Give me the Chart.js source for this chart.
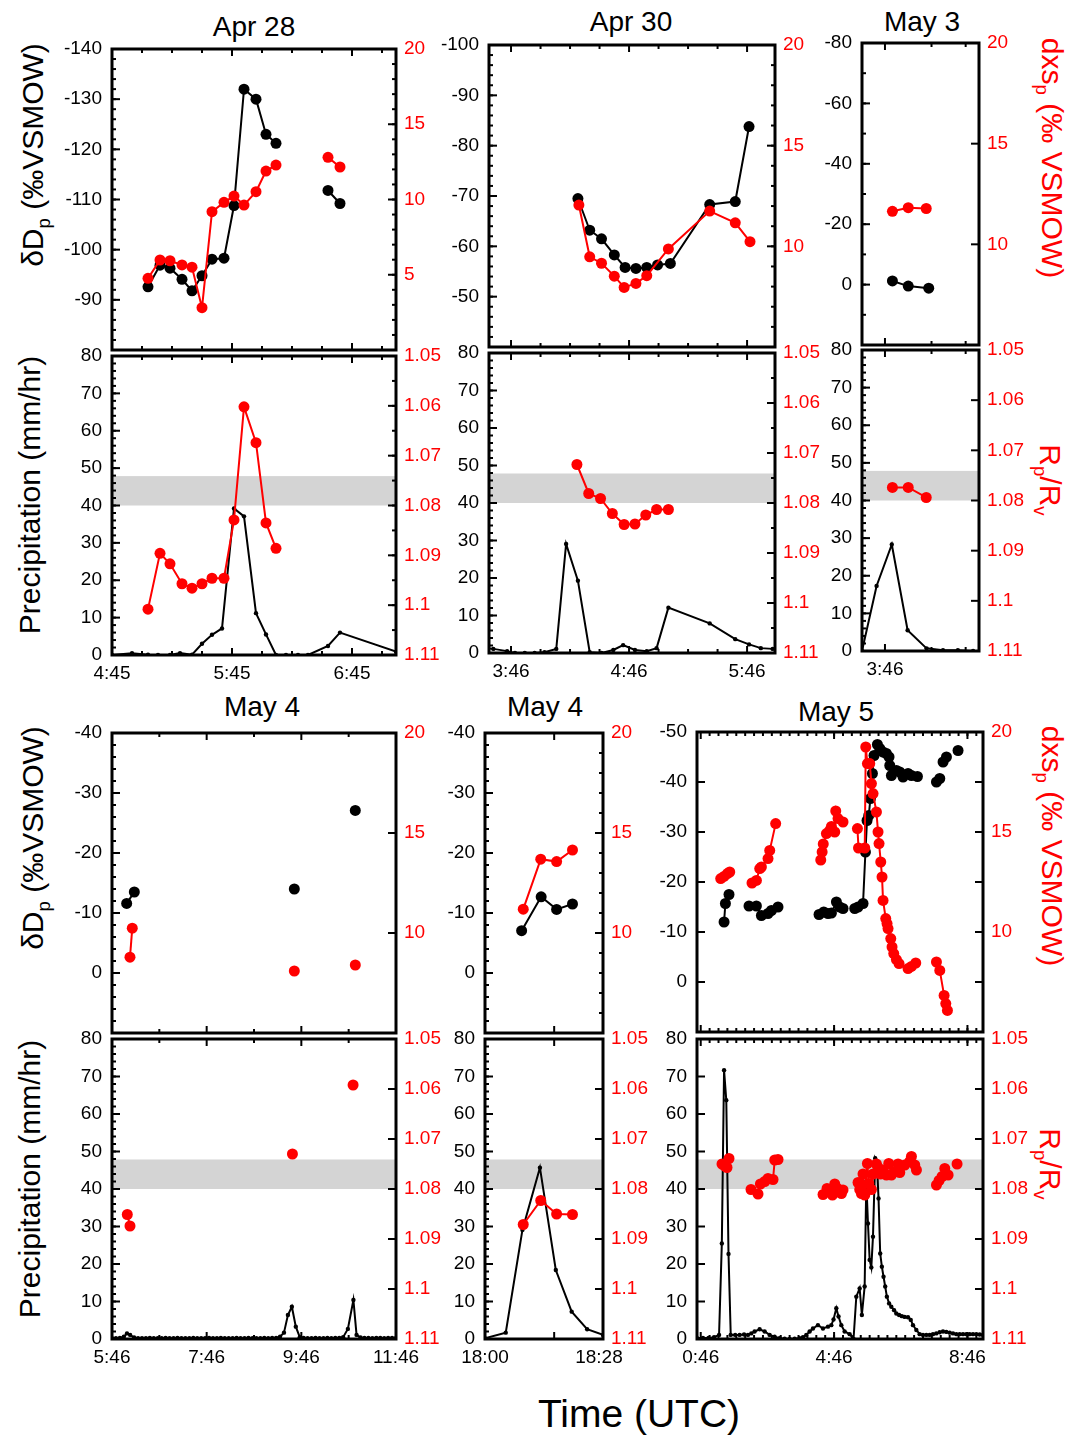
<!DOCTYPE html>
<html>
<head>
<meta charset="utf-8">
<title>Precipitation isotopes and rain rate</title>
<script src="https://cdn.jsdelivr.net/npm/chart.js@4.4.1/dist/chart.umd.min.js"></script>
<style>
  html, body { margin: 0; padding: 0; background: #fff; }
  body { position: relative; width: 1086px; height: 1436px; overflow: hidden; font-family: "Liberation Sans", Arial, sans-serif; color: #000; }
  canvas { position: absolute; }
  .txt { position: absolute; white-space: nowrap; transform: translate(-50%, -50%); line-height: 1; }
  .title { font-size: 28px; }
  .axis { font-size: 30px; }
  .up { transform: translate(-50%, -50%) rotate(-90deg); }
  .down { transform: translate(-50%, -50%) rotate(90deg); color: #ff0000; }
  .time { font-size: 39px; }
  sub { font-size: 0.62em; vertical-align: -0.35em; line-height: 0; }
</style>
</head>
<body>
<div class="txt title" style="left:254px;top:27px">Apr 28</div>
<div class="txt title" style="left:631px;top:22px">Apr 30</div>
<div class="txt title" style="left:922px;top:22px">May 3</div>
<div class="txt title" style="left:262px;top:707px">May 4</div>
<div class="txt title" style="left:545px;top:707px">May 4</div>
<div class="txt title" style="left:836px;top:712px">May 5</div>

<div class="txt axis up" style="left:33px;top:155px">δD<sub>p</sub> (‰VSMOW)</div>
<div class="txt axis up" style="left:30px;top:495px">Precipitation (mm/hr)</div>
<div class="txt axis up" style="left:33px;top:838px">δD<sub>p</sub> (‰VSMOW)</div>
<div class="txt axis up" style="left:30px;top:1179px">Precipitation (mm/hr)</div>

<div class="txt axis down" style="left:1052px;top:158px">dxs<sub>p</sub> (‰ VSMOW)</div>
<div class="txt axis down" style="left:1050px;top:480px">R<sub>p</sub>/R<sub>v</sub></div>
<div class="txt axis down" style="left:1052px;top:846px">dxs<sub>p</sub> (‰ VSMOW)</div>
<div class="txt axis down" style="left:1050px;top:1164px">R<sub>p</sub>/R<sub>v</sub></div>

<div class="txt time" style="left:639px;top:1413px">Time (UTC)</div>

<script>
// all times are minutes after 00:00 UTC; null breaks a line between sampling runs

// Apr 28
const apr28IsoTime = [303, 309, 314, 320, 325, 330, 335, 341, 346, 351, 357, 362, 367, 380, 393, 399];
const apr28DD = [-92.6, -96.9, -96.3, -94.1, -91.8, -94.8, -98.1, -98.3, -108.8, -132.0, -130.0, -123.0, -121.2, null, -111.8, -109.2];
const apr28Dxs = [4.76, 5.98, 5.93, 5.65, 5.5, 2.81, 9.19, 9.81, 10.23, 9.63, 10.52, 11.89, 12.29, null, 12.8, 12.16];
const apr28RatioTime = [303, 309, 314, 320, 325, 330, 335, 341, 346, 351, 357, 362, 367];
const apr28Ratio = [1.1008, 1.0896, 1.0917, 1.0957, 1.0966, 1.0957, 1.0946, 1.0946, 1.0829, 1.0602, 1.0674, 1.0835, 1.0886];
const apr28RainTime = [285, 295, 303, 308, 314, 319, 325, 330, 335, 340, 346, 351, 357, 362, 367, 372, 378, 383, 393, 399, 427];
const apr28Rain = [0, 0.5, 0.1, 0, 0, 0.5, 0.1, 3.0, 5.4, 7.1, 39.2, 37.1, 11.2, 5.5, 0, 0, 0, 0, 2.4, 6.0, 0.9];

// Apr 30
const apr30IsoTime = [260, 266, 272, 278.5, 284, 289.5, 295, 300.5, 307, 327, 340, 347];
const apr30DD = [-69.5, -63.2, -61.5, -58.3, -55.8, -55.6, -55.8, -56.3, -56.6, -68.3, -68.9, -83.8];
const apr30DxsTime = [260.5, 266, 272, 278.5, 283.5, 289.5, 295, 306, 327, 340, 347.5];
const apr30Dxs = [12.05, 9.48, 9.16, 8.52, 7.96, 8.16, 8.54, 9.87, 11.75, 11.17, 10.23];
const apr30RatioTime = [259.5, 265.5, 271.5, 277.5, 283.5, 289, 294.5, 300, 306];
const apr30Ratio = [1.0723, 1.0781, 1.0791, 1.0821, 1.0843, 1.0842, 1.0824, 1.0813, 1.0813];
const apr30RainTime = [214, 217, 224, 228, 233, 238, 243, 249, 254, 260, 266, 272, 278, 283, 289, 295, 300, 306, 327, 340, 347, 353, 359];
const apr30Rain = [1.2, 1.1, 0.5, 0, 0, 0, 0.2, 1.1, 29.1, 19.3, 0.2, 0, 0.8, 2.1, 0.8, 0.5, 1.3, 12.1, 7.9, 3.7, 2.3, 1.3, 1.1];

// May 3
const may3IsoTime = [228.4, 233.5, 240.1];
const may3DD = [-1.2, 0.5, 1.2];
const may3DxsTime = [228.4, 233.5, 239.3];
const may3Dxs = [11.64, 11.82, 11.78];
const may3Ratio = [1.0774, 1.0774, 1.0794];
const may3RainTime = [218.6, 223.3, 228.2, 233.3, 239.4, 244.7, 249.5, 254.4];
const may3Rain = [0, 17.3, 28.3, 5.5, 0.7, 0.2, 0.2, 0];

// May 4, morning
const may4aDDTime = [364.6, 374.3, 470, 577.1, 620, 654.4];
const may4aDD = [-11.6, -13.5, null, -14.0, null, -27.1];
const may4aDxsTime = [368.8, 371.7, 470, 577.1, 620, 654.4];
const may4aDxs = [8.79, 10.24, null, 8.1, null, 8.4];
const may4aRatioTime = [365.4, 368.8, 470, 574.7, 620, 651.6];
const may4aRatio = [1.0851, 1.0874, null, 1.073, null, 1.0592];
const may4aRainTime = [346, 351, 356, 361, 365, 369, 374, 379,
  384, 389, 394, 399, 404, 409, 414, 419, 424, 429, 434, 439, 444, 449, 454, 459, 464, 469, 474, 479,
  484, 489, 494, 499, 504, 509, 514, 519, 524, 529, 534, 539, 544, 549, 554,
  559, 564, 569, 574, 579, 584,
  589, 594, 599, 604, 609, 614, 619, 624, 629, 634, 639,
  645, 652, 656,
  661, 666, 671, 676, 681, 686, 691, 696, 701, 706];
const may4aRain = [0.2, 0.2, 0.3, 0.6, 1.5, 1.1, 0.4, 0.2,
  0.2, 0.2, 0.3, 0.2, 0.2, 0.2, 0.3, 0.2, 0.2, 0.3, 0.2, 0.2, 0.2, 0.3, 0.2, 0.2, 0.2, 0.3, 0.2, 0.2,
  0.3, 0.2, 0.2, 0.2, 0.3, 0.2, 0.2, 0.3, 0.2, 0.2, 0.2, 0.3, 0.2, 0.3, 0.3,
  0.6, 1.7, 6.4, 8.6, 3.3, 0.5,
  0.3, 0.2, 0.2, 0.3, 0.2, 0.2, 0.3, 0.2, 0.3, 0.3, 0.5,
  2.7, 10.4, 1.1,
  0.4, 0.3, 0.3, 0.2, 0.3, 0.3, 0.2, 0.3, 0.3, 0.3];

// May 4, evening
const may4bIsoTime = [1089.0, 1093.8, 1097.6, 1101.5];
const may4bDD = [-7.05, -12.7, -10.6, -11.5];
const may4bDxsTime = [1089.4, 1093.7, 1097.6, 1101.5];
const may4bDxs = [11.19, 13.69, 13.57, 14.15];
const may4bRatio = [1.0871, 1.0823, 1.085, 1.0851];
const may4bRainTime = [1080, 1085.1, 1089.2, 1093.5, 1097.4, 1101.3, 1105.1, 1109];
const may4bRain = [0.2, 1.7, 29.1, 45.7, 18.4, 7.3, 2.6, 1.1];

// May 5
const may5DDTime = [88, 90.4, 96.9, 115,
  132.9, 146.2, 155.2, 167.1, 173.2, 185.1, 220,
  258.9, 267.4, 275.1, 281.2, 290.2, 296.2, 302.1, 312,
  323.2, 329.1, 338.1, 342.4, 345.3, 348.4, 351.4, 355, 357.9, 364, 368.2, 374.1, 380.2, 384.9, 386.2, 389.2, 398.2, 404.2, 410.1, 419.1, 425.2, 436, 455,
  470.2, 476.2, 479, 482.1, 488.2, 500, 509.1];
const may5DD = [-12.0, -15.7, -17.5, null,
  -15.2, -15.2, -13.3, -13.7, -14.3, -15.0, null,
  -13.5, -14.0, -13.7, -13.8, -16.0, -15.0, -14.7, null,
  -14.7, -15.0, -15.7, -26.0, -32.3, -33.3, -36.7, -41.7, -45.3, -47.5, -46.7, -46.0, -45.7, -45.0, -43.3, -41.3, -42.3, -42.0, -41.0, -41.7, -41.3, -41.1, null,
  -40.0, -40.7, null, -44.0, -45.0, null, -46.3];
const may5DxsTime = [82, 87.9, 94, 98.2, 115,
  138.3, 146.2, 152.2, 155.2, 167.1, 170.2, 180.9, 220,
  262, 264.5, 266.5, 272.2, 278.2, 281.2, 287.2, 289, 293.1, 302.1, 312,
  328, 330, 341.2, 343, 346, 350.2, 353.2, 356.1, 362.2, 365.1, 366.9, 370, 372.3, 374.1, 379, 381.3, 383.1, 388, 390.3, 393.4, 398.2, 402.9, 419.1, 425.2, 433, 455,
  470.2, 476.2, 484, 487, 490];
const may5Dxs = [12.67, 12.78, 12.92, 13.0, null,
  12.45, 12.58, 13.17, 13.25, 13.67, 14.08, 15.42, null,
  13.6, 14.0, 14.4, 14.92, 15.08, 15.28, 15.0, 16.05, 15.67, 15.5, null,
  15.17, 14.2, 14.2, 19.25, 18.42, 18.42, 17.42, 16.92, 16.0, 15.0, 14.42, 13.5, 12.75, 11.58, 10.67, 10.42, 10.17, 9.67, 9.25, 8.92, 8.62, 8.42, 8.17, 8.28, 8.45, null,
  8.5, 8.08, 6.83, 6.42, 6.08];
const may5RatioTime = [84.3, 89.2, 93.3, 96.9, 115,
  136.5, 149.1, 153.4, 161.2, 167.1, 176.1, 179.2, 185.1, 220,
  266.1, 273.3, 278.2, 283, 287.2, 292, 299.2, 302.1, 312,
  329.1, 332.2, 335.2, 338.1, 341.2, 346, 348.4, 353.2, 356.1, 362.2, 365.1, 369.4, 374.1, 380.2, 384.4, 389.2, 395.2, 401.1, 404.2, 413.2, 422.2, 425.2, 431.2, 434.2, 455,
  470.2, 474.9, 480.3, 485.2, 491.2, 500, 507.3];
const may5Ratio = [1.0750, 1.0754, 1.0757, 1.0739, null,
  1.0801, 1.0810, 1.0790, 1.0785, 1.0779, 1.0781, 1.0742, 1.0741, null,
  1.0811, 1.0799, 1.0802, 1.0812, 1.0790, 1.0799, 1.0809, 1.0802, null,
  1.0787, 1.0801, 1.0809, 1.0770, 1.0812, 1.0749, 1.0789, 1.0801, 1.0770, 1.0750, 1.0757, 1.0770, 1.0762, 1.0772, 1.0749, 1.0772, 1.0765, 1.0750, 1.0767, 1.0752, 1.0745, 1.0735, 1.0752, 1.0762, null,
  1.0792, 1.0783, 1.0775, 1.0759, 1.0772, null, 1.0750];
const may5RainTime = [39, 50, 60, 70, 79, 84, 88, 92, 96, 100, 108, 116, 124, 131, 137, 143, 152, 161, 170, 179,
  188, 197, 206, 215, 224, 230, 236, 242, 248, 257, 266, 275, 281, 285, 290, 294, 299, 305, 314, 321,
  326, 332, 336, 341, 344, 347, 350, 353, 356, 360, 363, 366, 369, 372, 375, 378, 381, 385, 389, 394,
  398, 403, 408, 413, 419, 424, 428, 434, 440, 446, 452, 458, 464, 470, 476, 482, 488, 494, 500, 506,
  512, 518, 524, 530, 536, 542, 548, 554];
const may5Rain = [0.3, 0.3, 0.3, 0.5, 1.1, 25.5, 71.7, 63.7, 22.7, 1.1, 1.1, 1.1, 1.2, 1.1, 1.5, 2.0, 2.6, 2.0, 1.1, 0.6,
  0.2, 0.1, 0, 0.1, 0.2, 0.5, 1.1, 2.0, 2.8, 3.7, 2.8, 3.3, 3.7, 5.2, 8.2, 6.0, 3.7, 2.0, 1.3, 0,
  11.3, 13.5, 6.4, 14.0, 42.0, 30.8, 21.1, 19.1, 27.3, 48.2, 47.3, 37.5, 22.8, 19.3, 16.6, 14.0, 11.3, 9.5, 8.6, 7.7,
  6.8, 6.4, 6.1, 5.9, 5.8, 5.1, 3.7, 2.4, 1.3, 1.1, 1.1, 1.1, 1.3, 1.5, 1.8, 2.0, 1.9, 1.7, 1.5, 1.3,
  1.3, 1.3, 1.3, 1.3, 1.3, 1.3, 1.2, 1.1];

// axis labels
const rainTicks = [80, 70, 60, 50, 40, 30, 20, 10, 0];
const ratioTicks = [1.05, 1.06, 1.07, 1.08, 1.09, 1.1, 1.11];
const dxsTicks = [20, 15, 10];
const ratioBand = [1.0741, 1.08];

const RED = '#ff0000';
Chart.defaults.font.family = '"Liberation Sans", Arial, sans-serif';

function hm(m) {
  return Math.floor(m / 60) + ':' + String(Math.round(m % 60)).padStart(2, '0');
}

function steps(a, b, s) {
  const out = [];
  for (let v = a; v <= b + s * 1e-6; v += s) out.push(Math.round(v * 1e6) / 1e6);
  return out;
}

function line(t, v, color, r, axis, order) {
  return {
    data: t.map((x, i) => ({ x, y: v[i] })),
    showLine: true, spanGaps: false,
    borderColor: color, backgroundColor: color, borderWidth: 2,
    pointRadius: r, pointHoverRadius: r, pointBorderWidth: 0,
    yAxisID: axis, order
  };
}

// box outline, inward tick marks on all four sides, and the grey Rp/Rv band
function frame(p) {
  return {
    id: 'frame',
    beforeDatasetsDraw(chart) {
      if (!p.band) return;
      const { ctx, chartArea: a } = chart;
      const y0 = chart.scales.yR.getPixelForValue(p.band[0]);
      const y1 = chart.scales.yR.getPixelForValue(p.band[1]);
      ctx.save();
      ctx.fillStyle = '#d4d4d4';
      ctx.fillRect(a.left, Math.min(y0, y1), a.width, Math.abs(y1 - y0));
      ctx.restore();
    },
    afterDraw(chart) {
      const { ctx, chartArea: a, scales } = chart;
      ctx.save();
      ctx.strokeStyle = '#000';
      ctx.lineWidth = 2;
      const seg = (x0, y0, x1, y1) => { ctx.beginPath(); ctx.moveTo(x0, y0); ctx.lineTo(x1, y1); ctx.stroke(); };
      [[p.xMajor, 7], [p.xMinor, 4]].forEach(([vals, len]) => (vals || []).forEach(v => {
        const x = scales.x.getPixelForValue(v);
        seg(x, a.top, x, a.top + len);
        seg(x, a.bottom, x, a.bottom - len);
      }));
      [[p.left.major, 8], [p.left.minor, 4]].forEach(([vals, len]) => (vals || []).forEach(v => {
        const y = scales.yL.getPixelForValue(v);
        seg(a.left, y, a.left + len, y);
      }));
      [[p.right.major, 8], [p.right.minor, 4]].forEach(([vals, len]) => (vals || []).forEach(v => {
        const y = scales.yR.getPixelForValue(v);
        seg(a.right, y, a.right - len, y);
      }));
      ctx.lineWidth = 3;
      ctx.strokeRect(a.left, a.top, a.width, a.height);
      ctx.restore();
    }
  };
}

function yAxis(side, s, width) {
  return {
    type: 'linear', position: side, min: s.min, max: s.max, reverse: !!s.reverse,
    afterFit: sc => { sc.width = width; },
    afterBuildTicks: sc => { sc.ticks = s.labels.map(value => ({ value })); },
    grid: { display: false, drawTicks: false }, border: { display: false },
    ticks: {
      autoSkip: false, padding: side === 'left' ? 10 : 8,
      color: side === 'left' ? '#000' : RED, font: { size: 19 },
      callback: v => String(v)
    }
  };
}

function panel(p) {
  // room around the plot box for the tick labels; the top/bottom margins are
  // kept larger than the half label height plus padding that the y axes ask for
  const padL = 70, padR = 62, padT = 26, padB = p.xLabels ? 42 : 26;
  const [bx, by, bw, bh] = p.box;
  const cv = document.createElement('canvas');
  cv.width = bw + padL + padR;
  cv.height = bh + padT + padB;
  cv.style.left = (bx - padL) + 'px';
  cv.style.top = (by - padT) + 'px';
  document.body.appendChild(cv);
  new Chart(cv, {
    type: 'scatter',
    data: { datasets: p.datasets },
    options: {
      responsive: false, animation: false, devicePixelRatio: 1, events: [],
      layout: { padding: { left: 0, right: 0, top: padT, bottom: p.xLabels ? 0 : padB } },
      plugins: { legend: { display: false }, tooltip: { enabled: false } },
      scales: {
        x: {
          type: 'linear', min: p.x[0], max: p.x[1], display: !!p.xLabels,
          afterFit: sc => { sc.height = p.xLabels ? padB : 0; },
          afterBuildTicks: sc => { sc.ticks = (p.xLabels || []).map(value => ({ value })); },
          grid: { display: false, drawTicks: false }, border: { display: false },
          ticks: { autoSkip: false, maxRotation: 0, padding: 7, color: '#000', font: { size: 19 }, callback: v => hm(v) }
        },
        yL: yAxis('left', p.left, padL),
        yR: yAxis('right', p.right, padR)
      }
    },
    plugins: [frame(p)]
  });
}

const iso = (t, v) => line(t, v, '#000', 5.5, 'yL', 1);
const dxs = (t, v) => line(t, v, RED, 5.5, 'yR', 0);
const rain = (t, v) => line(t, v, '#000', 2.2, 'yL', 1);
const ratio = (t, v) => line(t, v, RED, 5.5, 'yR', 0);

const rainAxis = minor => ({ min: 0, max: 80, labels: rainTicks, major: steps(0, 80, 10), minor: minor ? steps(0, 80, 2) : [] });
const ratioAxis = minor => ({ min: 1.05, max: 1.11, reverse: true, labels: ratioTicks, major: steps(1.05, 1.11, 0.01), minor: minor ? steps(1.05, 1.11, 0.005) : [] });

// Apr 28
const apr28X = { x: [285, 427], xMajor: [285, 345, 405], xMinor: steps(300, 420, 15) };
panel({ ...apr28X, box: [112, 49, 284, 301],
  left: { min: -140, max: -80, reverse: true, labels: [-140, -130, -120, -110, -100, -90], major: steps(-140, -80, 10), minor: steps(-140, -80, 2) },
  right: { min: 0, max: 20, labels: [20, 15, 10, 5], major: steps(0, 20, 5), minor: steps(0, 20, 1) },
  datasets: [iso(apr28IsoTime, apr28DD), dxs(apr28IsoTime, apr28Dxs)] });
panel({ ...apr28X, box: [112, 356, 284, 299], xLabels: [285, 345, 405], band: ratioBand,
  left: rainAxis(true), right: ratioAxis(true),
  datasets: [rain(apr28RainTime, apr28Rain), ratio(apr28RatioTime, apr28Ratio)] });

// Apr 30
const apr30X = { x: [214.8, 360.2], xMajor: [226, 286, 346], xMinor: [241, 256, 271, 301, 316, 331] };
panel({ ...apr30X, box: [489, 45, 286, 302],
  left: { min: -100, max: -40, reverse: true, labels: [-100, -90, -80, -70, -60, -50], major: steps(-100, -40, 10), minor: steps(-100, -40, 2) },
  right: { min: 5, max: 20, labels: dxsTicks, major: steps(5, 20, 5), minor: steps(5, 20, 1) },
  datasets: [iso(apr30IsoTime, apr30DD), dxs(apr30DxsTime, apr30Dxs)] });
panel({ ...apr30X, box: [489, 353, 286, 300], xLabels: [226, 286, 346], band: ratioBand,
  left: rainAxis(true), right: ratioAxis(true),
  datasets: [rain(apr30RainTime, apr30Rain), ratio(apr30RatioTime, apr30Ratio)] });

// May 3
const may3X = { x: [218.6, 256.3], xMajor: [226], xMinor: [241, 252] };
panel({ ...may3X, box: [862, 43, 117, 302],
  left: { min: -80, max: 20, reverse: true, labels: [-80, -60, -40, -20, 0], major: steps(-80, 20, 20), minor: steps(-80, 20, 10) },
  right: { min: 5, max: 20, labels: dxsTicks, major: steps(5, 20, 5), minor: [] },
  datasets: [iso(may3IsoTime, may3DD), dxs(may3DxsTime, may3Dxs)] });
panel({ ...may3X, box: [862, 350, 117, 301], xLabels: [226], band: ratioBand,
  left: rainAxis(true), right: ratioAxis(false),
  datasets: [rain(may3RainTime, may3Rain), ratio(may3DxsTime, may3Ratio)] });

// May 4, morning
const may4aX = { x: [346, 706], xMajor: [346, 466, 586, 706], xMinor: [406, 526, 646] };
panel({ ...may4aX, box: [112, 733, 284, 300],
  left: { min: -40, max: 10, reverse: true, labels: [-40, -30, -20, -10, 0], major: steps(-40, 10, 10), minor: steps(-40, 10, 2) },
  right: { min: 5, max: 20, labels: dxsTicks, major: steps(5, 20, 5), minor: [] },
  datasets: [iso(may4aDDTime, may4aDD), dxs(may4aDxsTime, may4aDxs)] });
panel({ ...may4aX, box: [112, 1039, 284, 300], xLabels: [346, 466, 586, 706], band: ratioBand,
  left: rainAxis(true), right: ratioAxis(false),
  datasets: [rain(may4aRainTime, may4aRain), ratio(may4aRatioTime, may4aRatio)] });

// May 4, evening
const may4bX = { x: [1080, 1109], xMajor: [1080, 1097], xMinor: [] };
panel({ ...may4bX, box: [485, 733, 118, 300],
  left: { min: -40, max: 10, reverse: true, labels: [-40, -30, -20, -10, 0], major: steps(-40, 10, 10), minor: steps(-40, 10, 2) },
  right: { min: 5, max: 20, labels: dxsTicks, major: steps(5, 20, 5), minor: steps(5, 20, 1) },
  datasets: [iso(may4bIsoTime, may4bDD), dxs(may4bDxsTime, may4bDxs)] });
panel({ ...may4bX, box: [485, 1039, 118, 300], xLabels: [1080, 1108], band: ratioBand,
  left: rainAxis(true), right: ratioAxis(false),
  datasets: [rain(may4bRainTime, may4bRain), ratio(may4bDxsTime, may4bRatio)] });

// May 5
const may5X = { x: [39.3, 554], xMajor: [46, 286, 526], xMinor: steps(62, 542, 16) };
panel({ ...may5X, box: [697, 732, 286, 300],
  left: { min: -50, max: 10, reverse: true, labels: [-50, -40, -30, -20, -10, 0], major: steps(-50, 10, 10), minor: [] },
  right: { min: 5, max: 20, labels: dxsTicks, major: steps(5, 20, 2.5), minor: [] },
  datasets: [iso(may5DDTime, may5DD), dxs(may5DxsTime, may5Dxs)] });
panel({ ...may5X, box: [697, 1039, 286, 300], xLabels: [46, 286, 526], band: ratioBand,
  left: rainAxis(false), right: ratioAxis(false),
  datasets: [rain(may5RainTime, may5Rain), ratio(may5RatioTime, may5Ratio)] });
</script>
</body>
</html>
